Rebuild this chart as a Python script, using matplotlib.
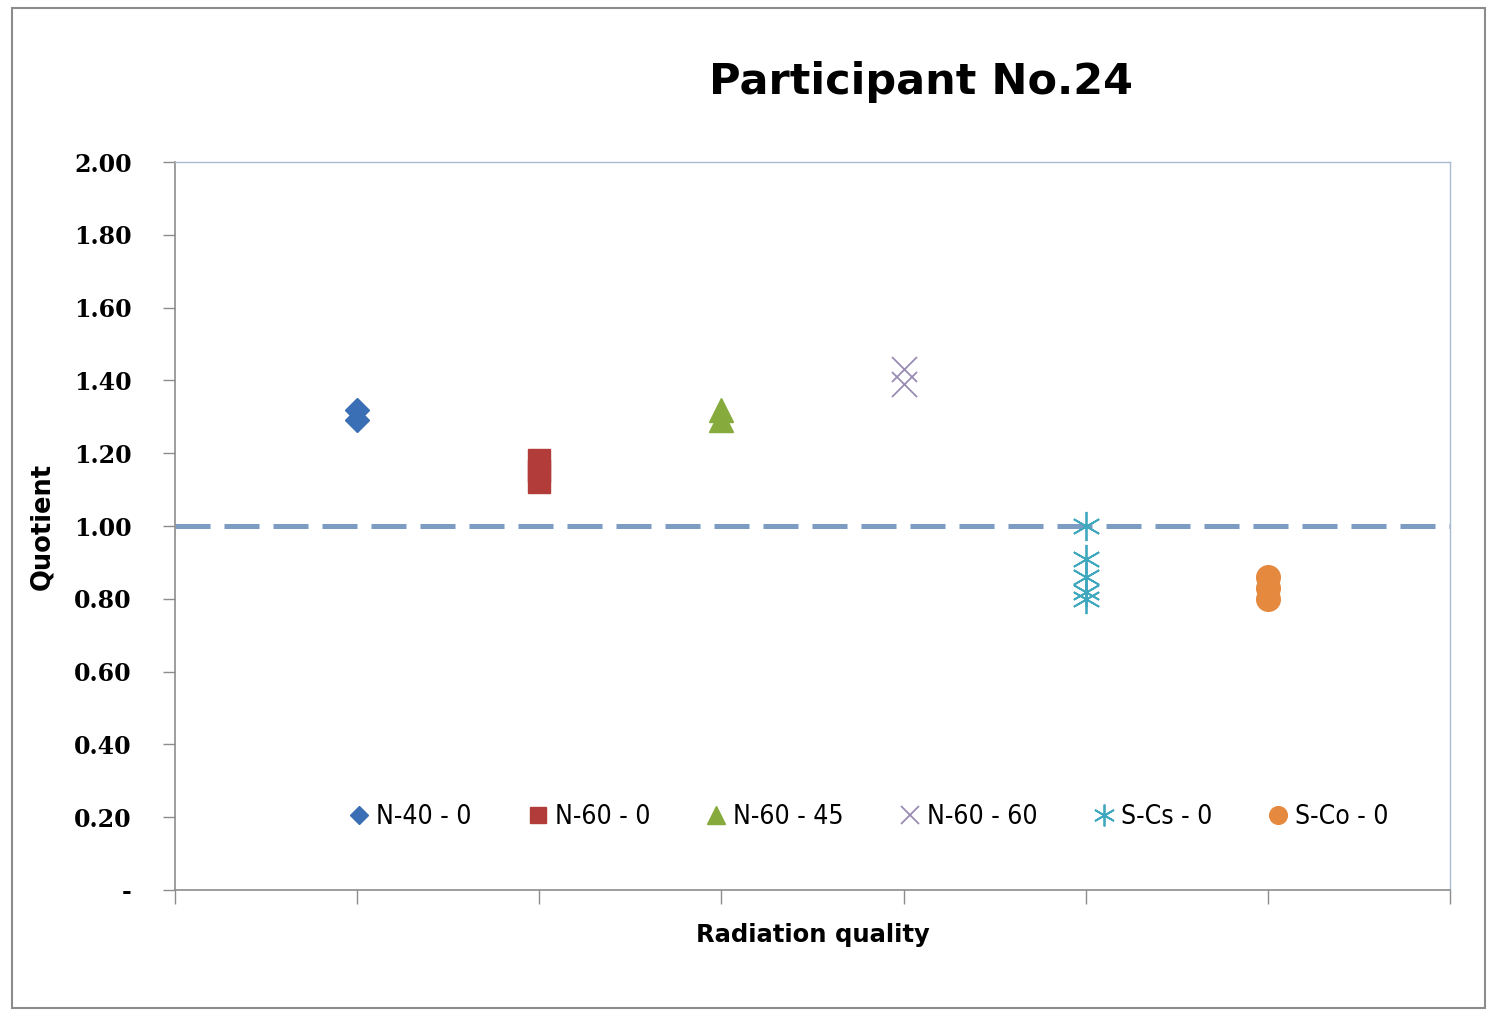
import matplotlib

matplotlib.use("Agg")
import matplotlib.pyplot as plt
from matplotlib.patches import Rectangle

# Quotient values per radiation quality (several measurements each)
qualities = ["N-40 - 0", "N-60 - 0", "N-60 - 45", "N-60 - 60", "S-Cs - 0", "S-Co - 0"]
n40_0 = [1.32, 1.29]
n60_0 = [1.18, 1.15, 1.12]
n60_45 = [1.32, 1.29]
n60_60 = [1.43, 1.39]
scs_0 = [1.00, 0.91, 0.86, 0.82, 0.80]
sco_0 = [0.86, 0.83, 0.80]
series = [n40_0, n60_0, n60_45, n60_60, scs_0, sco_0]

yticks = [0.0, 0.2, 0.4, 0.6, 0.8, 1.0, 1.2, 1.4, 1.6, 1.8, 2.0]
ytick_labels = ["-", "0.20", "0.40", "0.60", "0.80", "1.00", "1.20", "1.40", "1.60", "1.80", "2.00"]

styles = [
    dict(marker="D", color="#3a6fb5", ms=12, mec="#3a6fb5"),
    dict(marker="s", color="#b23c3a", ms=16, mec="#b23c3a"),
    dict(marker="^", color="#86ab3c", ms=17, mec="#86ab3c"),
    dict(marker="x", color="#9a8bb3", ms=18, mew=1.3),
    dict(marker=(6, 2, 0), color="#3fa8bf", ms=21, mew=1.3),
    dict(marker="o", color="#e5893f", ms=17, mec="#e5893f"),
]

fig = plt.figure(figsize=(14.87, 10.10), dpi=100)
fig.patches.append(Rectangle((12 / 1487, 2 / 1010), 1473 / 1487, 1000 / 1010,
                             transform=fig.transFigure, fill=False,
                             edgecolor="#8c8c8c", lw=1.5))

ax = fig.add_axes([175 / 1487, 1 - 890 / 1010, 1275 / 1487, 728 / 1010])

ax.axhline(1.0, color="#7d9cc4", lw=3.6, ls=(0, (7.0, 2.8)), zorder=1)

for i, (label, vals, st) in enumerate(zip(qualities, series, styles)):
    ax.plot([i + 1] * len(vals), vals, ls="none", label=label, zorder=3, **st)

ax.set_xlim(0, 7)
ax.set_ylim(0, 2.0)
ax.set_xticks(range(0, 8))
ax.set_xticklabels([])
ax.set_yticks(yticks)
ax.set_yticklabels(ytick_labels, family="DejaVu Serif", fontsize=17, fontweight="bold")
ax.tick_params(axis="y", length=9, width=1, color="#8c8c8c", pad=22)
ax.tick_params(axis="x", length=10, width=1, color="#8c8c8c")

for side in ["left", "bottom"]:
    ax.spines[side].set_color("#8c8c8c")
    ax.spines[side].set_linewidth(1.2)
for side in ["top", "right"]:
    ax.spines[side].set_color("#a9bccf")
    ax.spines[side].set_linewidth(1.0)

ax.set_xlabel("Radiation quality", fontsize=17.5, fontweight="bold", labelpad=10)
ax.set_ylabel("Quotient", fontsize=18.5, fontweight="bold", labelpad=14)

leg = ax.legend(loc="center", bbox_to_anchor=(0.543, 0.1), ncol=6, frameon=False,
                handlelength=1.0, handletextpad=0.15, columnspacing=2.0,
                markerscale=0.75, prop=dict(size=19, stretch="condensed"))

fig.text(921 / 1487, 1 - 82 / 1010, "Participant No.24", ha="center", va="center",
         fontsize=31, fontweight="bold")

fig.savefig("out.png", dpi=100)
